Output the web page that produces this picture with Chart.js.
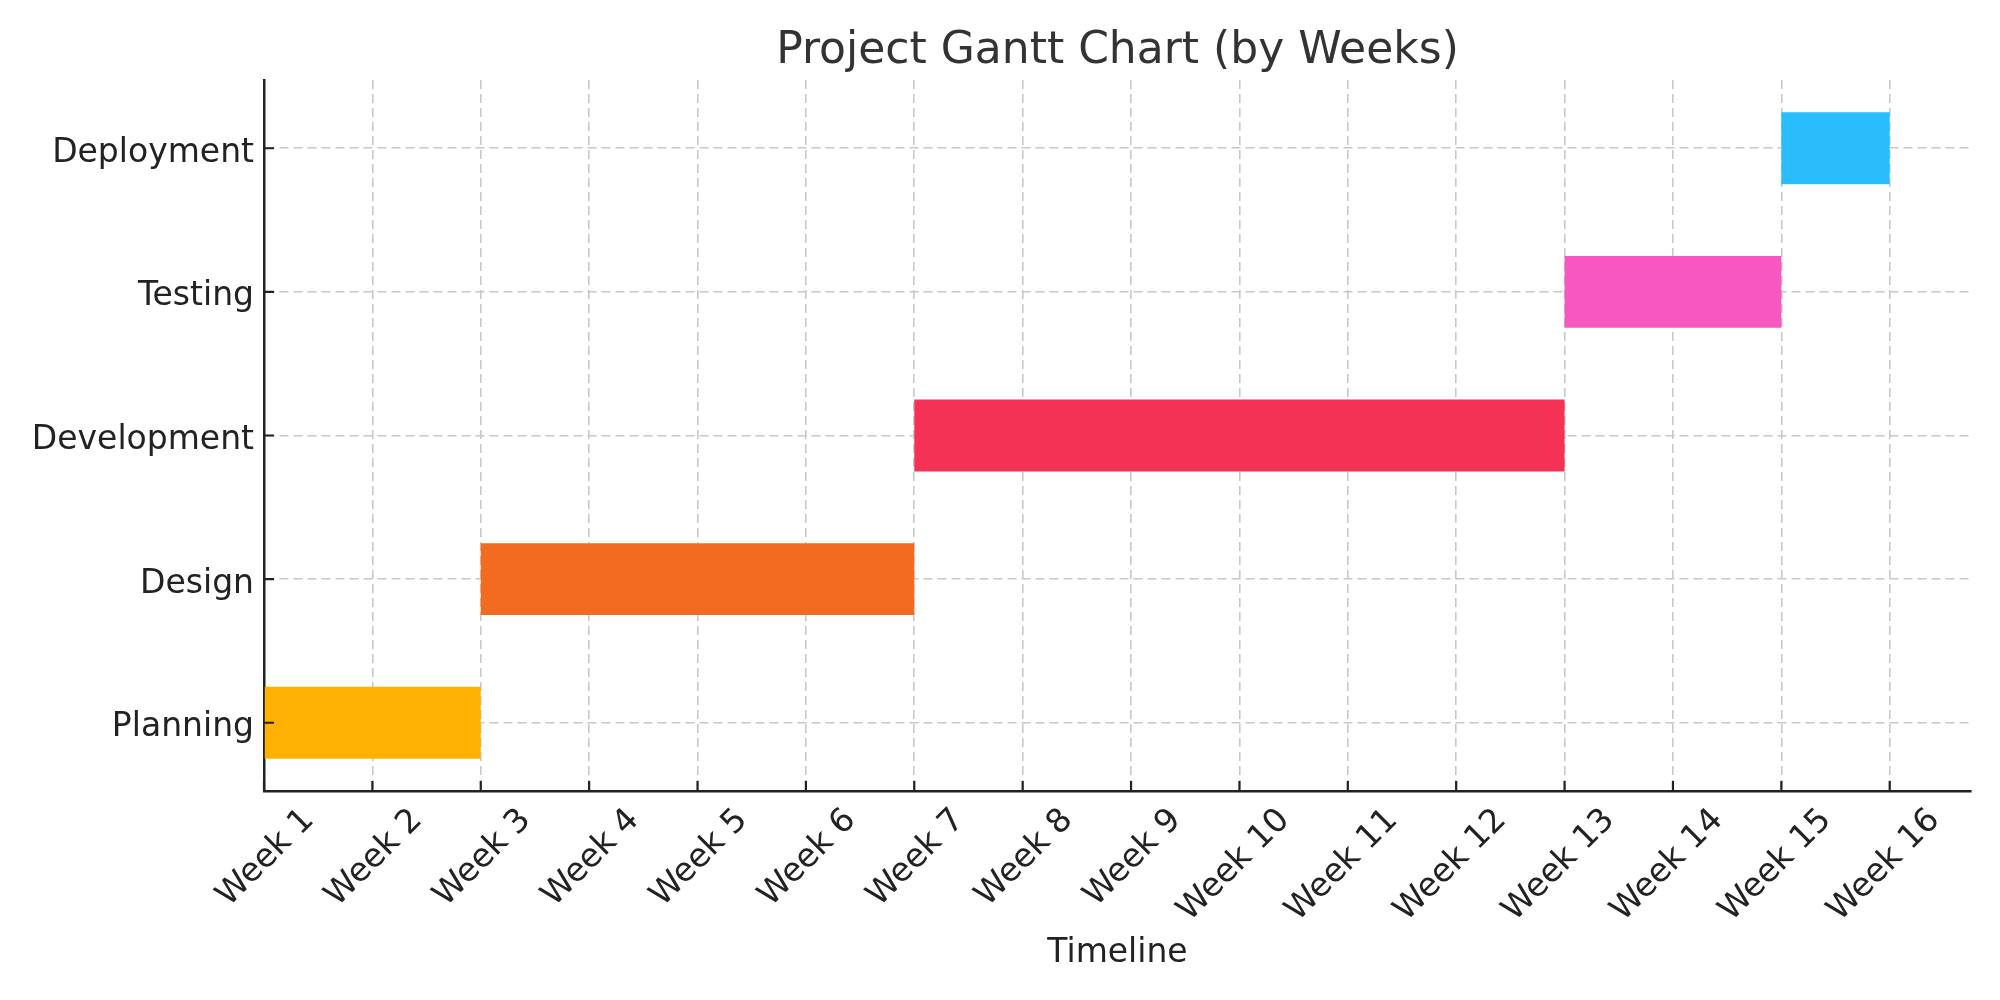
<!DOCTYPE html>
<html>
<head>
<meta charset="utf-8">
<title>Project Gantt Chart</title>
<script src="https://cdn.jsdelivr.net/npm/chart.js@4/dist/chart.umd.min.js"></script>
<style>
	html, body { margin: 0; padding: 0; background: #fff; }
	#wrap { width: 2000px; height: 1000px; position: relative; }
</style>
</head>
<body>
<div id="wrap"><canvas id="gantt"></canvas></div>
<script>
// Data
const tasks = ['Planning', 'Design', 'Development', 'Testing', 'Deployment'];
const startWeek = [0, 2, 6, 12, 14];   // index into weeks[]
const duration = [2, 4, 6, 2, 1];      // in weeks
const weeks = ['Week 1', 'Week 2', 'Week 3', 'Week 4', 'Week 5', 'Week 6', 'Week 7', 'Week 8',
	'Week 9', 'Week 10', 'Week 11', 'Week 12', 'Week 13', 'Week 14', 'Week 15', 'Week 16'];
const barColors = ['#FFB000', '#F26B21', '#F43256', '#F857C1', '#29BDFD'];
const chartTitle = 'Project Gantt Chart (by Weeks)';

const FONT = "'DejaVu Sans', sans-serif";
const AXIS_COLOR = '#222222';
const GRID_COLOR = '#c8c8c8';

(function() {
	'use strict';

	/**
	 * matplotlib style inward tick marks
	 */
	const inwardTicks = {
		id: 'inwardTicks',
		afterDraw(chart) {
			const { ctx, chartArea, scales } = chart;
			const len = 10;
			ctx.save();
			ctx.strokeStyle = AXIS_COLOR;
			ctx.lineWidth = 2.2;
			ctx.beginPath();
			scales.x.ticks.forEach(t => {
				const px = scales.x.getPixelForValue(t.value);
				ctx.moveTo(px, chartArea.bottom);
				ctx.lineTo(px, chartArea.bottom - len);
			});
			scales.y.ticks.forEach(t => {
				const py = scales.y.getPixelForValue(t.value);
				ctx.moveTo(chartArea.left, py);
				ctx.lineTo(chartArea.left + len, py);
			});
			ctx.stroke();
			ctx.restore();
		}
	};

	/**
	 * Title centred over the plot area (not the whole canvas)
	 */
	const axesTitle = {
		id: 'axesTitle',
		afterDraw(chart) {
			const { ctx, chartArea } = chart;
			ctx.save();
			ctx.fillStyle = '#333333';
			ctx.font = '44px ' + FONT;
			ctx.textAlign = 'center';
			ctx.textBaseline = 'middle';
			ctx.fillText(chartTitle, (chartArea.left + chartArea.right) / 2, 52);
			ctx.restore();
		}
	};

	const canvas = document.getElementById('gantt');

	new Chart(canvas, {
		type: 'bar',
		data: {
			datasets: [{
				data: tasks.map((t, i) => ({ x: [startWeek[i], startWeek[i] + duration[i]], y: i })),
				backgroundColor: barColors,
				borderWidth: 0,
				barPercentage: 0.5,
				categoryPercentage: 1.0
			}]
		},
		options: {
			indexAxis: 'y',
			responsive: true,
			maintainAspectRatio: false,
			devicePixelRatio: 1,
			animation: false,
			layout: {
				padding: { left: 0, right: 29, top: 80, bottom: 0 }
			},
			plugins: {
				legend: { display: false },
				tooltip: { enabled: false },
				title: { display: false }
			},
			scales: {
				x: {
					type: 'linear',
					min: 0,
					max: 15.75,
					offset: false,
					z: 1,
					afterFit: scale => { scale.height = 209; },
					afterBuildTicks: scale => {
						scale.ticks = weeks.map((w, i) => ({ value: i }));
					},
					ticks: {
						autoSkip: false,
						maxRotation: 45,
						minRotation: 45,
						labelOffset: 45,
						padding: 10,
						color: '#222222',
						font: { family: FONT, size: 33 },
						callback: value => weeks[value]
					},
					grid: {
						color: GRID_COLOR,
						lineWidth: 1.6,
						offset: false,
						drawTicks: false
					},
					border: {
						display: true,
						color: AXIS_COLOR,
						width: 2.5,
						dash: [9, 5]
					},
					title: {
						display: true,
						text: 'Timeline',
						color: '#222222',
						font: { family: FONT, size: 33, lineHeight: 1.2 },
						padding: { top: 4, bottom: 27 }
					}
				},
				y: {
					type: 'linear',
					min: -0.475,
					max: 4.475,
					offset: false,
					z: 1,
					afterFit: scale => { scale.width = 264; },
					afterBuildTicks: scale => {
						scale.ticks = tasks.map((t, i) => ({ value: i }));
					},
					ticks: {
						autoSkip: false,
						padding: 10,
						labelOffset: 5,
						color: '#222222',
						font: { family: FONT, size: 33 },
						callback: value => tasks[value]
					},
					grid: {
						color: GRID_COLOR,
						lineWidth: 1.6,
						offset: false,
						drawTicks: false
					},
					border: {
						display: true,
						color: AXIS_COLOR,
						width: 2.5,
						dash: [9, 5]
					}
				}
			}
		},
		plugins: [inwardTicks, axesTitle]
	});
})();
</script>
</body>
</html>
